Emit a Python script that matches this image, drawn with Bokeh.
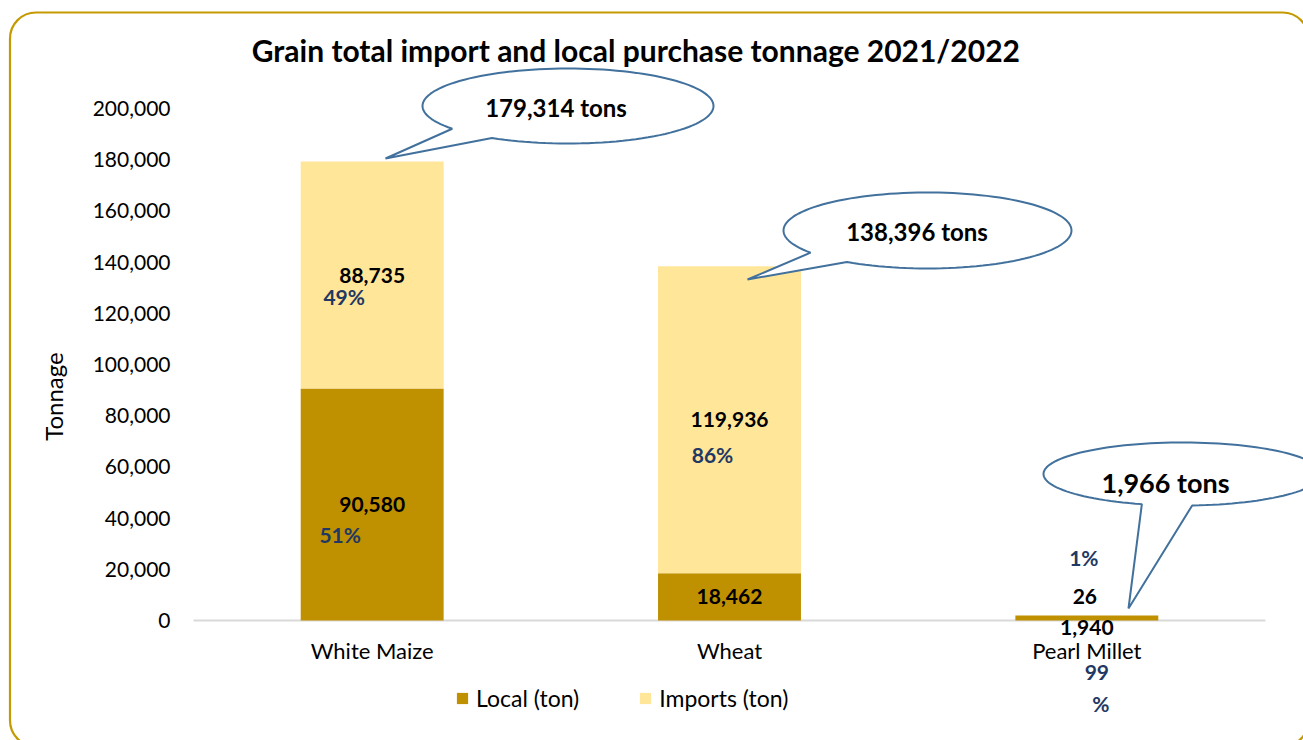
import math
from bokeh.plotting import figure
from bokeh.models import (Range1d, FixedTicker, NumeralTickFormatter, Label, PolyAnnotation,
                          BoxAnnotation, Legend, LegendItem, ColumnDataSource)
from bokeh.embed import file_html
from bokeh.resources import INLINE

# ---------------- data ----------------
categories = ["White Maize", "Wheat", "Pearl Millet"]
local_ton = [90580, 18462, 1940]
imports_ton = [88735, 119936, 26]
total_ton = [179314, 138396, 1966]
local_pct = ["51%", "", "99%"]
imports_pct = ["49%", "86%", "1%"]
y_ticks = [0, 20000, 40000, 60000, 80000, 100000, 120000, 140000, 160000, 180000, 200000]
series_names = ["Local (ton)", "Imports (ton)"]
title_text = "Grain total import and local purchase tonnage  2021/2022"
y_title = "Tonnage"

# ---------------- style / layout ----------------
W, H = 1303, 740
# plot area (in canvas pixels) of the category axis and value axis
PX_LEFT, PX_RIGHT, PX_TOP, PX_BOTTOM = 193, 1265, 108, 620
X_LO, X_HI = 0.5, 3.5
Y_LO, Y_HI = 0, 200000
FONT = "Lato"
LOCAL_C = "#BF9000"
IMPORT_C = "#FFE699"
PCT_C = "#1F3864"
CALLOUT_C = "#41719C"
BORDER_C = "#C49A00"

# the frame covers the whole canvas; axes are pinned inside it
xu = (X_HI - X_LO) / (PX_RIGHT - PX_LEFT)
yu = (Y_HI - Y_LO) / (PX_BOTTOM - PX_TOP)
x_range = Range1d(X_LO - PX_LEFT * xu, X_HI + (W - PX_RIGHT) * xu)
y_range = Range1d(Y_LO - (H - PX_BOTTOM) * yu, Y_HI + PX_TOP * yu)

xpos = [1, 2, 3]
src = ColumnDataSource(dict(x=xpos, local=local_ton, imports=imports_ton))

p = figure(width=W, height=H, x_range=x_range, y_range=y_range,
           output_backend="svg", toolbar_location=None,
           min_border=0, min_border_left=0, min_border_right=0,
           min_border_top=0, min_border_bottom=0)
p.outline_line_color = None
p.xgrid.grid_line_color = None
p.ygrid.grid_line_color = None
p.background_fill_color = "white"
p.border_fill_color = "white"


def sx(px):
    return px


def sy(py):
    return H - py


# rounded chart-area border
p.add_layout(BoxAnnotation(left=sx(9.5), right=sx(1308), top=sy(12), bottom=sy(746),
                           left_units="screen", right_units="screen",
                           top_units="screen", bottom_units="screen",
                           fill_color=None, fill_alpha=0, line_color=BORDER_C, line_alpha=1.0,
                           line_width=2.2, border_radius=26, level="underlay"))

# category axis baseline
p.segment(x0=[X_LO], y0=[0], x1=[X_HI], y1=[0], line_color="#D9D9D9", line_width=2)

rs = p.vbar_stack(["local", "imports"], x="x", width=0.4, source=src,
                  fill_color=[LOCAL_C, IMPORT_C], line_color=None)

# axes
p.yaxis.fixed_location = X_LO
p.yaxis.ticker = FixedTicker(ticks=y_ticks)
p.yaxis.formatter = NumeralTickFormatter(format="0,0")
p.yaxis.axis_line_color = None
p.yaxis.major_tick_line_color = None
p.yaxis.minor_tick_line_color = None
p.yaxis.major_tick_out = 0
p.yaxis.major_tick_in = 0
p.yaxis.major_label_standoff = 23
p.yaxis.major_label_text_font = FONT
p.yaxis.major_label_text_font_size = "21px"
p.yaxis.major_label_text_color = "#000000"

p.xaxis.fixed_location = 0
p.xaxis.ticker = FixedTicker(ticks=xpos)
p.xaxis.major_label_overrides = {xp: c for xp, c in zip(xpos, categories)}
p.xaxis.axis_line_color = None
p.xaxis.major_tick_line_color = None
p.xaxis.minor_tick_line_color = None
p.xaxis.major_tick_out = 0
p.xaxis.major_tick_in = 0
p.xaxis.major_label_standoff = 16
p.xaxis.major_label_text_font = FONT
p.xaxis.major_label_text_font_size = "22px"
p.xaxis.major_label_text_color = "#000000"

# legend
legend = Legend(items=[LegendItem(label=series_names[0], renderers=[rs[0]]),
                       LegendItem(label=series_names[1], renderers=[rs[1]])],
                location=(455, 28), orientation="horizontal",
                glyph_width=14, glyph_height=14, label_standoff=7, spacing=59,
                padding=0, margin=0, border_line_color=None, background_fill_alpha=0,
                label_text_font=FONT, label_text_font_size="23px", label_text_color="#000000")
p.add_layout(legend)


# callouts
def callout(cx, cy, a, b, g0, g1, tip):
    xs, ys = [], []
    n = 120
    for i in range(n + 1):
        t = math.radians(g1 + (g0 + 360 - g1) * i / n)
        xs.append(sx(cx + a * math.cos(t)))
        ys.append(sy(cy + b * math.sin(t)))
    xs.append(sx(tip[0]))
    ys.append(sy(tip[1]))
    return PolyAnnotation(xs=xs, ys=ys, xs_units="screen", ys_units="screen",
                          fill_color="white", fill_alpha=1.0,
                          line_color=CALLOUT_C, line_width=2, line_alpha=1.0)


callout_geom = [
    (567.5, 105.5, 145.5, 37.5, 121.5, 142.7, (385, 158)),
    (927, 230, 144, 38, 124, 144.3, (747, 279)),
    (1182, 473.5, 139, 31.5, 86, 107, (1128, 608)),
]
callout_text_pos = [(555.5, 106.5, "24px"), (916.5, 231, "24px"), (1165, 481.5, "27px")]
for g in callout_geom:
    p.add_layout(callout(*g))
for tot, (tx, ty, fs) in zip(total_ton, callout_text_pos):
    p.add_layout(Label(x=sx(tx), y=sy(ty), x_units="screen", y_units="screen",
                       text=f"{tot:,} tons", text_align="center", text_baseline="middle",
                       text_font=FONT, text_font_style="bold", text_font_size=fs,
                       text_color="#000000"))

# data labels (anchored at segment centres; offsets in px, positive dy = down)
local_val_off = [(0, 0), (0, 0), (0, 9)]
local_pct_off = [(-32, 30), None, (10, 54)]
imp_val_off = [(0, 0), (0, 0), (-2, -19)]
imp_pct_off = [(-28, 21), (-17, 35), (-3, -58)]


def add_label(xv, yv, text, off, color):
    p.add_layout(Label(x=xv, y=yv, text=text, x_offset=off[0], y_offset=-off[1],
                       text_align="center", text_baseline="middle",
                       text_font=FONT, text_font_style="bold", text_font_size="21px",
                       text_color=color))


for i in range(3):
    yl = local_ton[i] / 2
    yi = local_ton[i] + imports_ton[i] / 2
    add_label(xpos[i], yl, f"{local_ton[i]:,}", local_val_off[i], "#000000")
    add_label(xpos[i], yi, f"{imports_ton[i]:,}", imp_val_off[i], "#000000")
    add_label(xpos[i], yi, imports_pct[i], imp_pct_off[i], PCT_C)
    if local_pct[i]:
        if i == 2:
            # wrapped label: number and % sign on separate lines
            add_label(xpos[i], yl, local_pct[i][:-1], local_pct_off[i], PCT_C)
            add_label(xpos[i], yl, "%", (local_pct_off[i][0] + 4, local_pct_off[i][1] + 31), PCT_C)
        else:
            add_label(xpos[i], yl, local_pct[i], local_pct_off[i], PCT_C)

# title and value-axis title
p.add_layout(Label(x=sx(639), y=sy(49), x_units="screen", y_units="screen",
                   text=title_text, text_align="center", text_baseline="middle",
                   text_font=FONT, text_font_style="bold", text_font_size="30px",
                   text_color="#000000"))
p.add_layout(Label(x=sx(53), y=sy(396), x_units="screen", y_units="screen",
                   text=y_title, angle=90, angle_units="deg",
                   text_align="center", text_baseline="middle",
                   text_font=FONT, text_font_size="24px", text_color="#000000"))

open("out.html", "w").write(file_html(p, INLINE))
